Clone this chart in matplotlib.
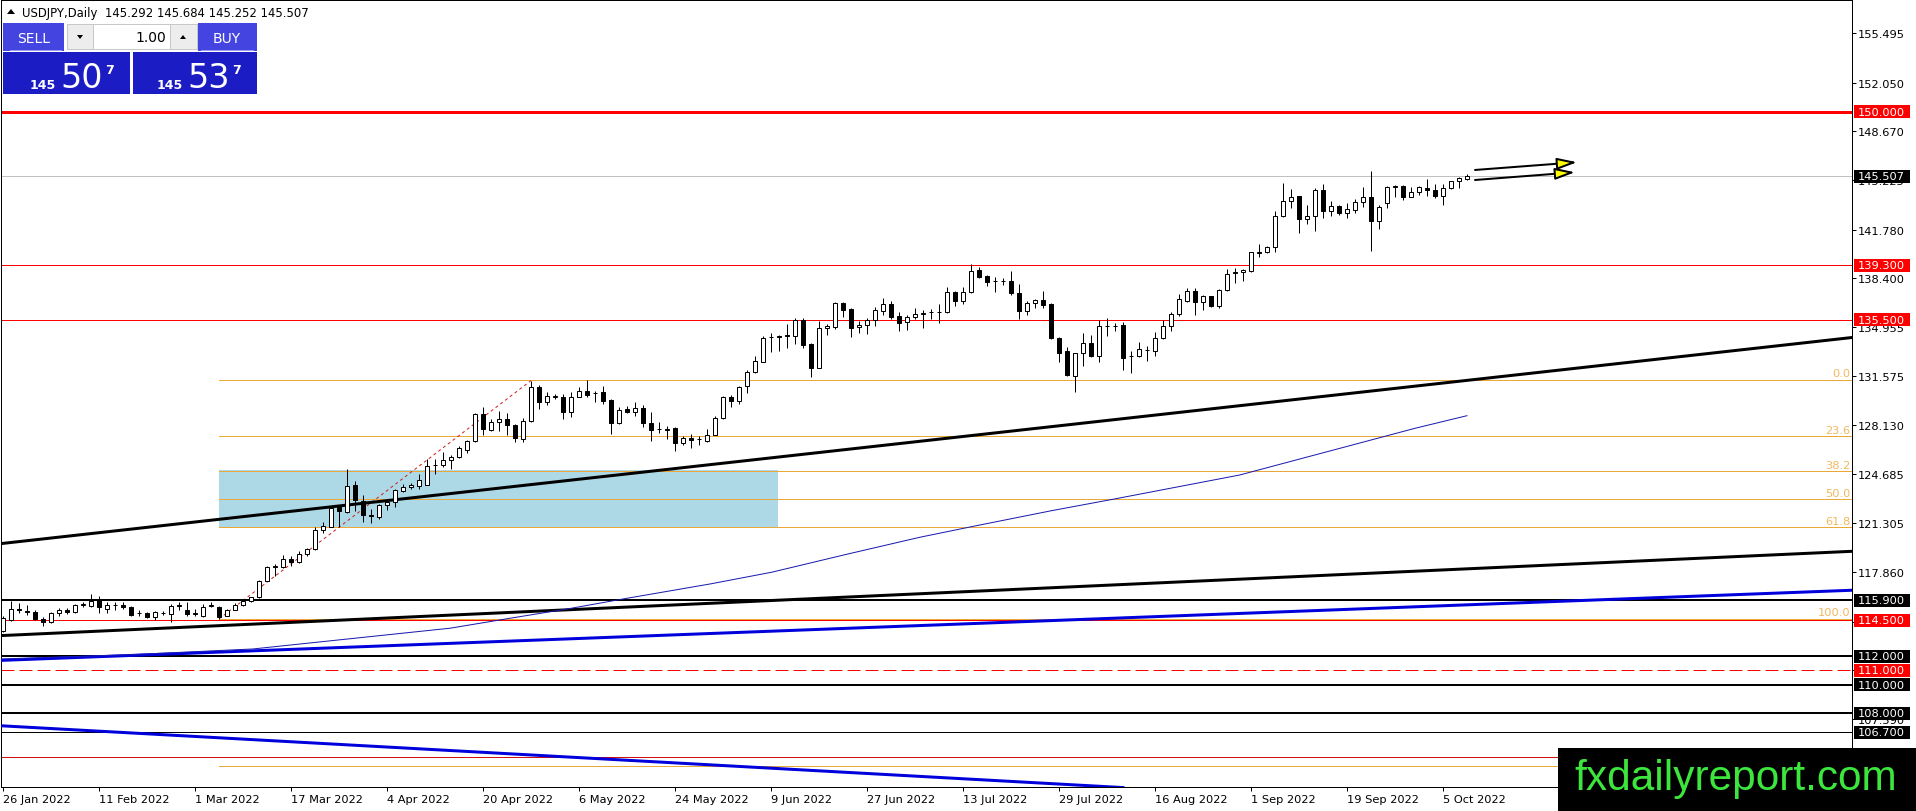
import numpy as np
import pandas as pd
import matplotlib
matplotlib.use("Agg")
import matplotlib.pyplot as plt
import matplotlib.transforms as mtransforms
from matplotlib.patches import Rectangle, Polygon

plt.rcParams['font.family'] = ['DejaVu Sans']

W, H = 1916, 812
PX = 0.72  # points per pixel at dpi 100

# daily candles, one per business day from 26 Jan 2022
opens = [113.78, 114.52, 115.30, 115.14, 115.10, 114.60, 114.41, 115.00, 115.20, 115.06,
         115.60, 115.50, 115.92, 115.30, 115.60, 115.60, 115.45, 115.02, 115.00, 114.70,
         115.00, 114.95, 115.50, 115.20, 114.95, 114.83, 115.50, 115.40, 114.83, 115.25,
         115.60, 115.83, 116.10, 117.27, 118.25, 118.25, 118.80, 118.60, 119.10, 119.48,
         120.80, 121.04, 122.44, 122.04, 123.95, 122.86, 121.88, 121.69, 122.55, 122.74,
         123.55, 123.79, 123.90, 123.97, 125.35, 125.37, 125.70, 125.88, 126.42, 127.00,
         128.91, 127.82, 128.33, 128.56, 128.14, 127.16, 128.40, 130.77, 129.72, 130.12,
         130.07, 129.03, 130.12, 130.49, 130.35, 130.42, 129.88, 128.26, 129.26, 129.03,
         129.30, 128.26, 127.86, 127.82, 127.91, 126.86, 127.23, 127.16, 127.00, 127.47,
         128.60, 130.07, 129.84, 130.84, 131.82, 132.57, 134.30, 134.30, 134.40, 134.38,
         135.50, 133.77, 132.10, 134.89, 134.96, 136.66, 136.22, 134.96, 135.12, 135.47,
         136.13, 136.59, 135.73, 135.31, 135.66, 135.92, 136.00, 136.05, 136.01, 137.41,
         136.82, 137.41, 138.97, 138.52, 138.17, 138.20, 138.22, 137.36, 136.13, 136.66,
         136.89, 136.59, 134.19, 133.29, 131.59, 133.17, 133.85, 132.94, 135.07, 135.05,
         135.13, 132.94, 132.94, 133.38, 133.29, 134.19, 135.03, 135.87, 136.82, 137.48,
         136.71, 137.13, 136.47, 137.59, 138.78, 138.80, 138.92, 140.18, 140.20, 140.55,
         142.76, 143.76, 144.11, 142.53, 142.76, 144.55, 143.11, 143.46, 142.92, 143.18,
         143.69, 144.04, 142.36, 143.62, 144.79, 144.81, 144.09, 144.39, 144.71, 144.55,
         144.16, 144.69, 145.16, 145.292]
highs = [114.80, 115.87, 115.69, 115.60, 115.20, 114.70, 115.06, 115.33, 115.35, 115.64,
         115.80, 116.34, 116.20, 115.76, 115.80, 115.76, 115.50, 115.20, 115.05, 115.17,
         115.13, 115.64, 115.76, 115.76, 115.30, 115.64, 115.80, 115.50, 115.30, 115.70,
         116.00, 116.15, 117.34, 118.27, 118.44, 119.07, 118.97, 119.37, 119.53, 121.00,
         121.35, 122.39, 122.50, 125.10, 124.26, 123.25, 122.27, 122.60, 122.97, 123.67,
         124.02, 124.09, 124.72, 125.77, 125.77, 126.28, 126.05, 126.65, 127.09, 128.98,
         129.37, 128.56, 129.10, 128.98, 128.21, 128.60, 131.24, 130.93, 130.47, 130.30,
         130.30, 130.47, 130.77, 131.31, 130.54, 130.84, 129.96, 129.42, 129.49, 129.72,
         129.56, 129.03, 128.33, 128.10, 127.98, 127.35, 127.51, 127.35, 127.86, 128.79,
         130.19, 130.24, 130.89, 132.01, 132.94, 134.38, 134.57, 134.43, 135.19, 135.59,
         135.59, 133.85, 135.43, 135.19, 136.75, 136.75, 136.29, 135.38, 135.59, 136.36,
         136.99, 136.82, 136.01, 135.82, 136.29, 136.20, 136.24, 136.59, 137.76, 137.48,
         137.76, 139.38, 139.15, 138.62, 138.45, 138.38, 138.87, 137.99, 136.82, 136.94,
         137.48, 136.65, 134.26, 133.57, 133.15, 134.54, 134.43, 135.47, 135.59, 135.27,
         135.31, 133.33, 133.91, 133.68, 134.66, 135.50, 136.01, 137.29, 137.69, 137.69,
         137.24, 137.17, 137.64, 139.03, 139.10, 139.03, 140.25, 140.78, 140.62, 143.09,
         145.04, 144.62, 144.16, 143.50, 144.67, 144.97, 143.76, 143.53, 143.64, 143.92,
         144.74, 145.90, 143.50, 144.85, 144.92, 144.90, 144.74, 144.81, 145.32, 144.97,
         144.97, 145.20, 145.44, 145.684]
lows = [113.70, 114.48, 115.00, 114.90, 114.50, 114.10, 114.30, 114.83, 114.95, 115.00,
        115.40, 115.40, 114.99, 115.00, 115.25, 115.29, 114.83, 114.83, 114.65, 114.55,
        114.90, 114.41, 115.20, 114.83, 114.78, 114.70, 115.40, 114.60, 114.78, 115.20,
        115.50, 115.76, 116.06, 117.22, 117.60, 118.13, 118.32, 118.50, 119.02, 119.44,
        120.58, 121.00, 121.00, 122.00, 122.16, 121.39, 121.30, 121.60, 122.23, 122.39,
        123.49, 123.67, 123.67, 123.95, 124.72, 125.18, 125.07, 125.84, 126.19, 126.93,
        127.45, 127.75, 127.75, 127.44, 126.98, 126.93, 128.37, 129.26, 129.56, 129.96,
        128.56, 128.72, 130.07, 130.07, 129.72, 129.61, 127.51, 128.21, 128.96, 128.79,
        128.03, 127.05, 127.58, 127.16, 126.35, 126.74, 126.51, 126.74, 126.93, 127.44,
        128.56, 129.42, 129.61, 130.37, 131.77, 132.52, 133.22, 133.33, 133.52, 133.80,
        133.52, 131.47, 132.10, 134.43, 134.85, 135.66, 134.26, 134.57, 134.50, 135.08,
        135.85, 135.54, 134.73, 134.80, 135.54, 134.92, 135.54, 135.26, 135.96, 136.47,
        136.59, 137.36, 138.41, 137.87, 137.41, 137.92, 137.24, 135.54, 135.85, 136.29,
        136.31, 134.15, 132.52, 131.59, 130.42, 132.29, 132.87, 132.52, 134.33, 134.73,
        132.00, 131.77, 132.87, 132.61, 132.94, 134.15, 134.70, 135.78, 136.71, 135.82,
        136.17, 136.36, 136.29, 137.52, 138.03, 138.22, 138.85, 139.85, 140.13, 140.25,
        142.69, 143.29, 141.52, 142.15, 141.67, 142.57, 142.76, 142.83, 142.62, 142.95,
        143.34, 140.32, 141.83, 143.27, 144.09, 143.88, 144.04, 144.23, 144.16, 143.97,
        143.53, 144.62, 144.67, 145.252]
closes = [114.67, 115.29, 115.20, 115.10, 114.60, 114.40, 115.00, 115.20, 115.10, 115.60,
          115.62, 115.87, 115.41, 115.60, 115.58, 115.40, 114.90, 115.00, 114.70, 115.10,
          115.02, 115.50, 115.60, 114.95, 115.00, 115.45, 115.60, 114.70, 115.25, 115.60,
          115.87, 116.10, 117.27, 118.20, 118.27, 118.80, 118.55, 119.10, 119.48, 120.81,
          121.10, 122.35, 122.10, 123.90, 122.93, 121.86, 121.76, 122.58, 122.74, 123.60,
          123.79, 123.95, 124.30, 125.30, 125.37, 125.70, 125.93, 126.51, 127.00, 128.91,
          127.86, 128.37, 128.56, 128.14, 127.21, 128.40, 130.77, 129.72, 130.14, 130.14,
          129.03, 130.07, 130.54, 130.26, 130.37, 129.84, 128.26, 129.19, 129.03, 129.30,
          128.26, 127.82, 127.88, 127.84, 126.88, 127.23, 127.09, 127.18, 127.44, 128.60,
          130.07, 129.84, 130.77, 131.82, 132.59, 134.19, 134.26, 134.33, 134.38, 135.45,
          133.75, 132.10, 134.89, 135.03, 136.66, 136.20, 134.94, 135.15, 135.47, 136.17,
          136.59, 135.70, 135.26, 135.66, 135.87, 135.94, 136.01, 136.06, 137.41, 136.82,
          137.41, 138.92, 138.50, 138.10, 138.19, 138.22, 137.34, 136.08, 136.64, 136.89,
          136.54, 134.19, 133.17, 131.62, 133.15, 133.85, 132.94, 135.03, 135.08, 135.08,
          132.84, 132.96, 133.45, 133.40, 134.19, 135.03, 135.89, 136.94, 137.48, 136.71,
          137.13, 136.47, 137.59, 138.69, 138.80, 138.97, 140.20, 140.20, 140.55, 142.76,
          143.76, 144.09, 142.53, 142.76, 144.55, 143.11, 143.46, 142.92, 143.20, 143.69,
          144.04, 142.36, 143.34, 144.74, 144.81, 144.09, 144.39, 144.74, 144.55, 144.16,
          144.67, 145.16, 145.39, 145.507]

tick_labels = ["26 Jan 2022", "11 Feb 2022", "1 Mar 2022", "17 Mar 2022", "4 Apr 2022",
               "20 Apr 2022", "6 May 2022", "24 May 2022", "9 Jun 2022", "27 Jun 2022",
               "13 Jul 2022", "29 Jul 2022", "16 Aug 2022", "1 Sep 2022", "19 Sep 2022",
               "5 Oct 2022"]
price_ticks = [155.495, 152.050, 148.670, 145.225, 141.780, 138.400, 134.955, 131.575,
               128.130, 124.685, 121.305, 117.860, 114.415, 111.035, 107.590]

# horizontal levels
red_levels = [150.0, 139.3, 135.5, 114.5]
red_widths = [3, 1, 1, 1]
black_levels = [115.9, 112.0, 110.0, 108.0, 106.7]
black_widths = [2, 2, 2, 2, 1]
dash_level = 111.0
low_red_level = 104.94
bid = 145.507

# trend lines (bar index, price)
trend_x = [-0.375, 231.125]
upper_trend = [119.85, 134.25]
lower_trend = [113.43, 119.32]
blue_trend = [111.70, 116.60]
down_x = [-0.375, 140.0]
down_trend = [107.14, 102.82]

# moving average
ma_bars = [-0.375, 15.9, 31.25, 55.9, 62.9, 70.6, 77.6, 88.4, 96.1, 105.6, 114.6,
           121.6, 131.1, 138.9, 154.6, 176.5, 183.0]
ma_vals = [111.80, 112.10, 112.50, 113.95, 114.60, 115.30, 116.00, 117.04, 117.86,
           119.13, 120.30, 121.10, 122.16, 122.97, 124.65, 127.91, 128.79]

# fibonacci retracement
fib_start, fib_end = 27, 66
fib_high, fib_low = 131.285, 114.62
fib_ratios = [0.0, 23.6, 38.2, 50.0, 61.8, 100.0, 161.8]
box_x = [27, 96.9]
box_y = [120.99, 125.03]

arrow_tails = [(184, 145.95), (184, 145.25)]
arrow_tips = [(196.75, 146.49), (196.5, 145.79)]

O = np.array(opens); Hh = np.array(highs); L = np.array(lows); C = np.array(closes)
n = len(C)
xs = np.arange(n)
dates = pd.bdate_range("2022-01-26", periods=n)
tick_pos = [dates.get_loc(pd.Timestamp(t)) for t in tick_labels]

fig = plt.figure(figsize=(W / 100, H / 100), dpi=100, facecolor='white')
ax = fig.add_axes([1 / W, (H - 788) / H, 1851 / W, 787 / H])
ax.set_xlim(-0.25, 231.125)
ax.set_ylim(102.86, 157.82)
ppu = (157.82 - 102.86) / 787  # price per pixel

for s in ax.spines.values():
    s.set_color('black')
    s.set_linewidth(1 * PX)

# blue rectangle
ax.add_patch(Rectangle((box_x[0], box_y[0]), box_x[1] - box_x[0], box_y[1] - box_y[0],
                       facecolor='#ADD8E6', edgecolor='none', zorder=1))

# fib lines and labels
trans_lbl = mtransforms.blended_transform_factory(fig.transFigure, ax.transData)
for r in fib_ratios:
    lvl = fib_high - r / 100 * (fib_high - fib_low)
    ax.plot([fib_start, 240], [lvl, lvl], color='#EBA83A', lw=1 * PX, zorder=2)
    ax.text(1850 / W, lvl + 1.5 * ppu, f"{r:.1f}", transform=trans_lbl, ha='right',
            va='bottom', color='#F2B860', fontsize=8.2, zorder=3)
ax.plot([fib_start, fib_end], [lows[fib_start], highs[fib_end]], color='#D02020',
        lw=1 * PX, dashes=(3, 3), zorder=2)

# horizontal lines
for lvl, w in zip(red_levels, red_widths):
    ax.axhline(lvl, color='#FF0000', lw=w * PX, zorder=2)
for lvl, w in zip(black_levels, black_widths):
    ax.axhline(lvl, color='black', lw=w * PX, zorder=2)
ax.axhline(dash_level, color='#FF0000', lw=1 * PX, dashes=(13, 5), zorder=2)
ax.axhline(low_red_level, color='#D01010', lw=1 * PX, zorder=2)
ax.axhline(bid, color='#C0C0C0', lw=1 * PX, zorder=2)

# trend lines
ax.plot(trend_x, upper_trend, color='black', lw=3 * PX, zorder=3)
ax.plot(trend_x, lower_trend, color='black', lw=3 * PX, zorder=3)
ax.plot(trend_x, blue_trend, color='#0000DC', lw=3 * PX, zorder=3)
ax.plot(down_x, down_trend, color='#0000DC', lw=3 * PX, zorder=3)
ax.plot(ma_bars, ma_vals, color='#1A1AB0', lw=1 * PX, zorder=3)

# candles
ax.vlines(xs, L, Hh, color='black', lw=1 * PX, zorder=5)
ax.bar(xs, np.abs(C - O), bottom=np.minimum(O, C), width=0.6,
       color=np.where(C >= O, 'white', 'black'), edgecolor='black',
       linewidth=1 * PX, zorder=6)

# arrows
for (tx, ty), (hx, hy) in zip(arrow_tails, arrow_tips):
    ax.annotate('', xy=(hx, hy), xytext=(tx, ty),
                arrowprops=dict(arrowstyle='-|>,head_length=1.2,head_width=0.35',
                                facecolor='#FFFF00', edgecolor='black', lw=2 * PX,
                                shrinkA=0, shrinkB=0, mutation_scale=10), zorder=7)

# axes ticks
ax.yaxis.tick_right()
ax.set_yticks(price_ticks)
ax.set_yticklabels([f"{p:.3f}" for p in price_ticks])
ax.tick_params(axis='y', length=4 * PX, width=1 * PX, pad=2 * PX, labelsize=8.2)
ax.set_xticks(tick_pos)
ax.set_xticklabels(tick_labels)
ax.tick_params(axis='x', length=4 * PX, width=1 * PX, pad=2, labelsize=8.2)
for t in ax.get_xticklabels():
    t.set_ha('left')

# price boxes on the right scale
def price_box(p, color):
    hh = 6.5 * ppu
    ax.add_patch(Rectangle((1854 / W, p - hh), 56 / W, 2 * hh, transform=trans_lbl,
                           facecolor=color, edgecolor='none', clip_on=False, zorder=10))
    ax.text(1858 / W, p, f"{p:.3f}", transform=trans_lbl, color='white', ha='left',
            va='center', fontsize=8.2, zorder=11, clip_on=False)

for lvl in red_levels + [dash_level]:
    price_box(lvl, '#FF0000')
for lvl in black_levels + [bid]:
    price_box(lvl, 'black')

# one-click trading panel
def rect(x0, y0, x1, y1, fc, ec='none', lw=0):
    fig.add_artist(Rectangle((x0 / W, 1 - y1 / H), (x1 - x0) / W, (y1 - y0) / H,
                             transform=fig.transFigure, facecolor=fc, edgecolor=ec,
                             linewidth=lw, zorder=5))

def ftext(x, y, s, **kw):
    fig.text(x / W, 1 - y / H, s, zorder=6, **kw)

def tri(pts, color):
    fig.add_artist(Polygon([(px / W, 1 - py / H) for px, py in pts], closed=True,
                           transform=fig.transFigure, facecolor=color, edgecolor='none',
                           zorder=6))

tri([(7, 15), (15, 15), (11, 10)], 'black')
ftext(22, 13, "USDJPY,Daily  145.292 145.684 145.252 145.507", fontsize=8.4,
      va='center', ha='left', color='black')

rect(3, 24, 64, 52, '#4444E0')
rect(198, 24, 257, 52, '#4444E0')
rect(10, 51, 62, 52, '#9A9AF0')
rect(201, 51, 254, 52, '#9A9AF0')
rect(67, 25, 197, 50, 'white', '#C8C8C8', 1 * PX)
rect(67, 25, 93, 50, '#EDEDED', '#C8C8C8', 1 * PX)
rect(170, 25, 197, 50, '#EDEDED', '#C8C8C8', 1 * PX)
tri([(77, 36), (83, 36), (80, 40)], 'black')
tri([(180, 40), (186, 40), (183, 36)], 'black')
ftext(34, 39, "SELL", color='white', fontsize=10, ha='center', va='center')
ftext(227, 39, "BUY", color='white', fontsize=10, ha='center', va='center')
ftext(166, 38, "1.00", color='black', fontsize=10, ha='right', va='center')

rect(3, 53, 130, 95, '#1C1CC4')
rect(133, 53, 257, 95, '#1C1CC4')
ftext(30, 89, "145", color='white', fontsize=9, fontweight='bold', va='baseline')
ftext(60, 88, "50", color='white', fontsize=24, va='baseline')
ftext(105, 74, "7", color='white', fontsize=9, fontweight='bold', va='baseline')
ftext(157, 89, "145", color='white', fontsize=9, fontweight='bold', va='baseline')
ftext(187, 88, "53", color='white', fontsize=24, va='baseline')
ftext(232, 74, "7", color='white', fontsize=9, fontweight='bold', va='baseline')

# watermark
fig.add_artist(Rectangle((1558 / W, 0), (W - 1558) / W, (H - 749) / H,
                         transform=fig.transFigure, facecolor='black', zorder=20))
fig.text(1736 / W, (H - 790) / H, "fxdailyreport.com", color='#3CE63C', fontsize=30.5,
         family='Liberation Sans', ha='center', va='baseline', zorder=21)

fig.savefig("out.png", dpi=100, facecolor='white')
